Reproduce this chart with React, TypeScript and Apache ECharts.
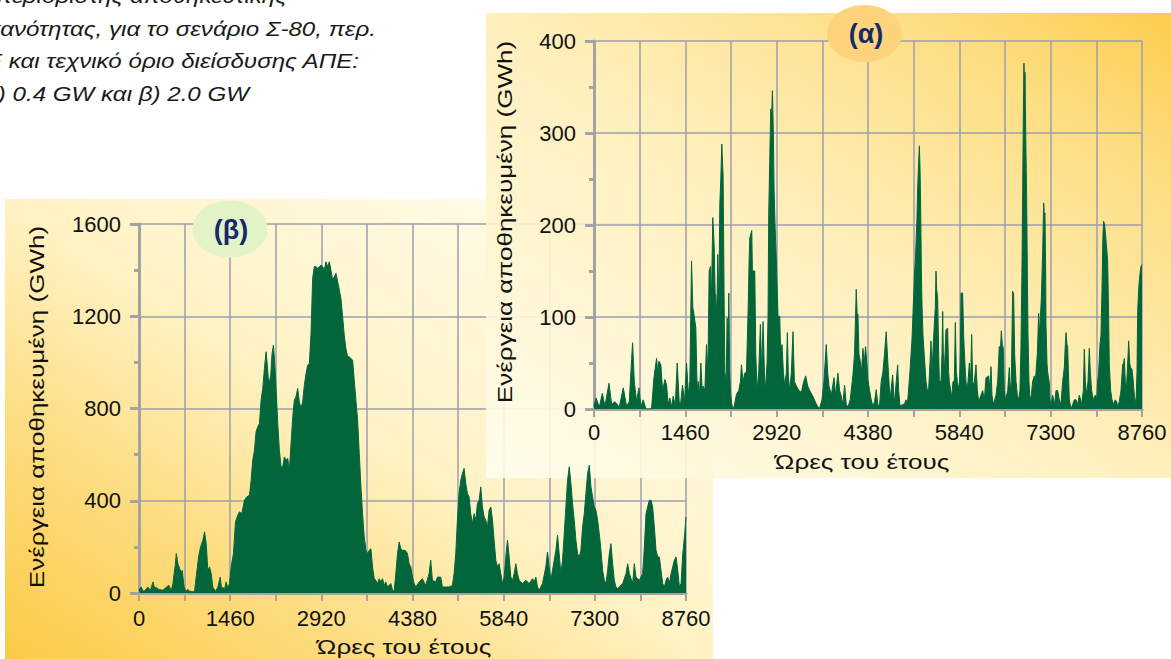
import React, { useEffect, useRef } from 'react';
import * as echarts from 'echarts';

// ---------- data ----------
const X_TICK_LABELS = ['0', '1460', '2920', '4380', '5840', '7300', '8760'];
const ALPHA_Y_MAX = 400;
const BETA_Y_MAX = 1600;

const Y_NAME = 'Ενέργεια αποθηκευμένη (GWh)';
const X_NAME = 'Ώρες του έτους';
const ALPHA_TAG = '(α)';
const BETA_TAG = '(β)';
const NOTE_LINES = [
  'απεριόριστης αποθηκευτικής',
  'ικανότητας, για το σενάριο Σ-80, περ.',
  'ΑΠΕ και τεχνικό όριο διείσδυσης ΑΠΕ:',
  'α) 0.4 GW και β) 2.0 GW',
];

// (α) stored energy, hours of year
const ALPHA_HOURS = [
  0, 32, 85, 133, 176, 239, 282, 335, 404, 468, 521, 564, 601, 617, 644, 681, 718, 750, 787, 830, 920, 958, 1000, 1021, 1037,
  1069, 1096, 1133, 1160, 1186, 1213, 1240, 1266, 1298, 1330, 1362, 1383, 1415, 1447, 1479, 1511, 1532, 1559, 1580, 1596, 1628,
  1649, 1665, 1686, 1708, 1730, 1745, 1772, 1798, 1820, 1841, 1862, 1878, 1899, 1920, 1937, 1947, 1963, 1979, 1995, 2011, 2027,
  2043, 2064, 2080, 2091, 2112, 2128, 2144, 2155, 2171, 2181, 2202, 2234, 2277, 2314, 2341, 2357, 2383, 2410, 2437, 2463, 2479,
  2490, 2522, 2532, 2543, 2570, 2586, 2607, 2633, 2660, 2681, 2703, 2724, 2740, 2766, 2782, 2793, 2809, 2825, 2841, 2852, 2867,
  2878, 2894, 2915, 2942, 2969, 2984, 3006, 3027, 3048, 3075, 3091, 3107, 3128, 3155, 3181, 3203, 3235, 3277, 3315, 3352, 3384,
  3416, 3447, 3490, 3543, 3580, 3607, 3644, 3676, 3713, 3735, 3756, 3793, 3836, 3862, 3899, 3926, 3952, 3979, 4006, 4032, 4059,
  4096, 4139, 4165, 4192, 4208, 4219, 4235, 4256, 4277, 4298, 4320, 4341, 4362, 4378, 4405, 4432, 4458, 4485, 4511, 4538, 4564,
  4591, 4618, 4644, 4671, 4694, 4732, 4774, 4801, 4854, 4870, 4892, 4934, 4961, 4987, 5014, 5051, 5083, 5110, 5126, 5137, 5153,
  5163, 5174, 5185, 5201, 5212, 5222, 5233, 5243, 5259, 5281, 5307, 5328, 5350, 5371, 5387, 5403, 5414, 5440, 5456, 5467, 5477,
  5493, 5510, 5520, 5547, 5563, 5574, 5584, 5600, 5627, 5653, 5669, 5680, 5701, 5717, 5739, 5760, 5776, 5792, 5808, 5840, 5856,
  5867, 5893, 5909, 5920, 5936, 5957, 5979, 6000, 6021, 6037, 6053, 6074, 6106, 6128, 6149, 6186, 6213, 6240, 6266, 6288, 6309,
  6330, 6346, 6362, 6383, 6405, 6426, 6453, 6479, 6495, 6511, 6527, 6543, 6559, 6575, 6597, 6613, 6629, 6639, 6655, 6671, 6692,
  6708, 6724, 6746, 6767, 6788, 6809, 6825, 6841, 6852, 6863, 6873, 6884, 6889, 6905, 6916, 6927, 6937, 6953, 6969, 6991, 7012,
  7039, 7055, 7065, 7087, 7108, 7124, 7135, 7151, 7161, 7172, 7188, 7199, 7209, 7220, 7225, 7241, 7252, 7279, 7289, 7305, 7332,
  7364, 7385, 7412, 7438, 7465, 7492, 7518, 7534, 7545, 7561, 7572, 7588, 7598, 7625, 7652, 7678, 7705, 7732, 7758, 7780, 7796,
  7822, 7838, 7854, 7875, 7897, 7918, 7934, 7955, 7982, 8014, 8035, 8051, 8067, 8088, 8104, 8120, 8136, 8147, 8163, 8173, 8189,
  8211, 8227, 8237, 8259, 8280, 8307, 8333, 8355, 8371, 8397, 8424, 8451, 8467, 8477, 8493, 8504, 8525, 8547, 8563, 8579, 8600,
  8621, 8637, 8664, 8680, 8691, 8707, 8717, 8733, 8744, 8760,
];
const ALPHA_GWH = [
  3, 12, 2, 17, 3, 28, 5, 8, 2, 23, 3, 8, 54, 72, 30, 8, 23, 3, 10, 0, 0, 34, 55, 38, 52,
  48, 20, 32, 26, 5, 12, 2, 14, 3, 50, 8, 5, 26, 8, 50, 15, 30, 161, 110, 104, 88,
  20, 30, 15, 50, 20, 25, 20, 70, 40, 150, 155, 120, 208, 179, 125, 124, 100, 168, 110, 222, 250,
  288, 253, 120, 40, 30, 99, 70, 126, 40, 19, 5, 0, 16, 20, 30, 48, 30, 39, 40, 106, 160,
  186, 194, 150, 150, 150, 60, 20, 40, 92, 40, 95, 40, 20, 50, 100, 211, 270, 326, 320, 346, 300,
  240, 200, 161, 100, 101, 60, 70, 40, 25, 40, 83, 35, 20, 40, 84, 30, 25, 20, 18, 30, 36,
  25, 20, 15, 7, 2, 1, 10, 30, 70, 40, 25, 15, 34, 15, 39, 20, 14, 5, 26, 5, 2,
  10, 37, 60, 130, 100, 103, 60, 52, 40, 66, 50, 68, 50, 32, 20, 10, 3, 8, 21, 5, 3,
  30, 40, 60, 84, 54, 10, 37, 5, 48, 20, 3, 5, 5, 10, 8, 41, 75, 123, 150, 161, 190,
  208, 240, 260, 286, 260, 219, 150, 114, 80, 57, 30, 20, 22, 50, 74, 40, 57, 92, 110, 150, 130,
  121, 60, 30, 30, 60, 106, 60, 40, 86, 88, 40, 30, 20, 12, 30, 30, 94, 40, 30, 20, 60,
  126, 126, 80, 63, 40, 20, 30, 50, 30, 81, 30, 25, 48, 20, 8, 15, 20, 10, 34, 35, 36,
  20, 46, 15, 5, 10, 15, 30, 68, 60, 85, 70, 66, 20, 10, 15, 20, 35, 45, 20, 30, 128,
  125, 60, 30, 15, 10, 20, 66, 150, 233, 320, 376, 340, 366, 280, 230, 150, 84, 30, 10, 15, 30,
  36, 30, 30, 60, 104, 80, 99, 120, 144, 170, 224, 210, 213, 150, 92, 50, 40, 28, 10, 5, 15,
  5, 20, 20, 10, 5, 30, 45, 70, 83, 70, 68, 30, 10, 0, 5, 10, 10, 5, 15, 10, 5,
  20, 65, 30, 15, 30, 66, 40, 20, 10, 15, 10, 30, 40, 70, 80, 128, 190, 204, 200, 200, 180,
  161, 100, 48, 20, 10, 5, 10, 8, 3, 8, 20, 48, 50, 55, 30, 15, 40, 74, 50, 45, 43,
  30, 15, 5, 40, 106, 130, 139, 150, 155, 157,
];

// (β) stored energy, hours of year
const BETA_HOURS = [
  0, 11, 37, 64, 91, 144, 181, 224, 250, 266, 320, 384, 437, 480, 517, 543, 559, 581, 597, 623, 650, 677, 693, 719, 746,
  783, 810, 852, 890, 916, 954, 986, 1023, 1050, 1076, 1103, 1130, 1156, 1183, 1225, 1263, 1300, 1321, 1343, 1369, 1396, 1423,
  1449, 1476, 1513, 1545, 1582, 1609, 1646, 1689, 1726, 1769, 1796, 1822, 1849, 1875, 1902, 1929, 1955, 1982, 2009, 2035, 2057,
  2078, 2110, 2131, 2153, 2174, 2195, 2222, 2248, 2275, 2302, 2328, 2355, 2382, 2408, 2435, 2462, 2488, 2515, 2541, 2568, 2595,
  2621, 2648, 2675, 2701, 2728, 2755, 2781, 2808, 2834, 2861, 2888, 2914, 2941, 2968, 2994, 3021, 3048, 3074, 3101, 3128, 3154,
  3181, 3208, 3234, 3261, 3287, 3314, 3341, 3367, 3394, 3421, 3447, 3474, 3501, 3527, 3554, 3580, 3607, 3634, 3660, 3687, 3714,
  3740, 3767, 3794, 3820, 3847, 3874, 3900, 3927, 3953, 3980, 4033, 4060, 4087, 4113, 4140, 4166, 4193, 4220, 4262, 4300, 4326,
  4353, 4380, 4406, 4433, 4486, 4538, 4592, 4645, 4672, 4699, 4752, 4779, 4832, 4859, 4912, 4966, 5019, 5046, 5073, 5099, 5126,
  5153, 5179, 5206, 5233, 5260, 5286, 5313, 5340, 5367, 5393, 5420, 5447, 5473, 5500, 5527, 5554, 5580, 5607, 5634, 5661, 5687,
  5714, 5741, 5767, 5794, 5821, 5848, 5874, 5901, 5928, 5954, 5981, 6008, 6035, 6061, 6088, 6141, 6195, 6248, 6302, 6329, 6355,
  6382, 6409, 6462, 6515, 6542, 6569, 6596, 6622, 6676, 6703, 6729, 6756, 6783, 6810, 6836, 6863, 6890, 6917, 6943, 6970, 6997,
  7023, 7050, 7077, 7104, 7131, 7157, 7184, 7211, 7238, 7264, 7291, 7318, 7345, 7371, 7398, 7425, 7452, 7478, 7505, 7532, 7558,
  7585, 7612, 7639, 7666, 7692, 7746, 7799, 7826, 7853, 7906, 7932, 7959, 8013, 8066, 8093, 8120, 8146, 8173, 8200, 8226, 8253,
  8280, 8307, 8333, 8360, 8387, 8414, 8440, 8467, 8494, 8521, 8547, 8574, 8601, 8628, 8654, 8681, 8708, 8735, 8760,
];
const BETA_GWH = [
  10, 19, 26, 8, 10, 26, 10, 48, 20, 25, 15, 12, 25, 33, 10, 40, 77, 120, 171, 127, 106, 90, 98, 30, 8,
  15, 8, 5, 8, 69, 156, 200, 229, 265, 214, 98, 113, 84, 25, 8, 25, 69, 20, 25, 15, 48, 20,
  40, 113, 171, 308, 337, 352, 344, 402, 417, 424, 489, 576, 619, 699, 720, 735, 836, 887, 974, 1046, 981,
  901, 945, 1039, 1075, 995, 887, 735, 619, 547, 547, 590, 576, 583, 532, 648, 764, 836, 851, 887, 829, 800,
  829, 901, 952, 988, 995, 1126, 1364, 1415, 1415, 1408, 1415, 1422, 1415, 1400, 1436, 1415, 1436, 1400, 1357, 1371, 1386,
  1350, 1314, 1277, 1198, 1118, 1060, 1024, 1024, 1017, 1010, 923, 836, 749, 605, 460, 344, 243, 185, 171, 185, 192,
  113, 62, 55, 40, 62, 48, 62, 33, 48, 26, 41, 12, 8, 84, 171, 221, 192, 185, 185, 171, 127,
  113, 69, 41, 26, 48, 62, 33, 84, 142, 55, 48, 69, 69, 26, 26, 26, 33, 84, 171, 315, 431,
  489, 518, 540, 475, 431, 417, 344, 301, 344, 315, 388, 402, 460, 373, 330, 315, 286, 359, 373, 315, 229,
  142, 113, 127, 84, 40, 69, 156, 229, 156, 69, 55, 84, 127, 84, 55, 41, 55, 41, 62, 48, 69,
  26, 12, 41, 113, 178, 113, 55, 98, 185, 250, 170, 84, 142, 258, 373, 489, 547, 475, 388, 315, 229,
  171, 156, 185, 286, 344, 431, 518, 554, 460, 417, 373, 359, 315, 258, 185, 98, 55, 41, 98, 171, 214,
  127, 55, 26, 19, 26, 41, 84, 127, 84, 41, 127, 69, 55, 84, 200, 344, 373, 402, 402, 373, 286,
  185, 156, 156, 98, 41, 26, 55, 69, 41, 84, 113, 142, 156, 98, 26, 41, 171, 243, 330,
];

// ---------- styles ----------
const FONT = '"Liberation Sans", Arial, Helvetica, sans-serif';
const GREEN = '#03663A';
const AXIS_GRAY = '#A3A3A3';
const GRID_GRAY = '#9E9EAE';
const TEXT = '#111111';
const NAVY = '#15286B';

function xAxisCfg(gridIndex: number, z: number, margin: number) {
  return {
    type: 'value',
    gridIndex,
    min: 0,
    max: 8760,
    interval: 730,
    z,
    axisLine: { show: true, onZero: false, lineStyle: { color: AXIS_GRAY, width: 3 } },
    axisTick: { show: true, length: 8, lineStyle: { color: AXIS_GRAY, width: 2 } },
    axisLabel: {
      margin,
      fontSize: 22,
      fontFamily: FONT,
      color: TEXT,
      showMinLabel: true,
      showMaxLabel: true,
      formatter: (v: number) => (X_TICK_LABELS.includes(String(v)) ? String(v) : ''),
    },
    splitLine: { show: true, lineStyle: { color: GRID_GRAY, width: 1.5 } },
  };
}

function yAxisCfg(gridIndex: number, z: number, max: number, interval: number) {
  return {
    type: 'value',
    gridIndex,
    min: 0,
    max,
    interval,
    z,
    axisLine: { show: true, lineStyle: { color: AXIS_GRAY, width: 3 } },
    axisTick: { show: true, length: 9, lineStyle: { color: AXIS_GRAY, width: 3 } },
    minorTick: { show: true, splitNumber: 2, length: 5, lineStyle: { color: AXIS_GRAY, width: 3 } },
    axisLabel: {
      margin: 18,
      fontSize: 22,
      fontFamily: FONT,
      color: TEXT,
      formatter: (v: number) => String(v),
    },
    splitLine: { show: true, lineStyle: { color: GRID_GRAY, width: 1.5 } },
  };
}

function areaSeries(idx: number, hours: number[], values: number[], z: number) {
  return {
    type: 'line',
    xAxisIndex: idx,
    yAxisIndex: idx,
    z,
    data: hours.map((h, i) => [h, values[i]]),
    showSymbol: false,
    symbol: 'none',
    silent: true,
    lineStyle: { color: GREEN, width: 1 },
    areaStyle: { color: GREEN, opacity: 1 },
  };
}

function label(text: string, x: number, y: number, opts: any = {}) {
  return {
    type: 'text',
    x,
    y,
    z: 6,
    silent: true,
    rotation: opts.rotation || 0,
    scaleX: opts.scaleX || 1,
    style: {
      text,
      fill: opts.fill || TEXT,
      fontSize: opts.fontSize || 21,
      fontFamily: FONT,
      fontStyle: opts.fontStyle || 'normal',
      fontWeight: opts.fontWeight || 'normal',
      align: opts.align || 'center',
      verticalAlign: 'middle',
    },
  };
}

export default function App() {
  const ref = useRef<HTMLDivElement>(null);

  useEffect(() => {
    const chart = echarts.init(ref.current as HTMLDivElement, null, { renderer: 'svg' });

    const betaBg = {
      type: 'linear', x: 0, y: 1, x2: 1, y2: 0,
      colorStops: [
        { offset: 0, color: '#FBCB46' },
        { offset: 0.25, color: '#FDDC7E' },
        { offset: 0.5, color: '#FFF2C4' },
        { offset: 1, color: '#FFFEF4' },
      ],
    };
    const alphaBg = {
      type: 'linear', x: 0, y: 1, x2: 1, y2: 0,
      colorStops: [
        { offset: 0, color: '#FFFEF0' },
        { offset: 0.5, color: '#FEEDB4' },
        { offset: 0.8, color: '#FDDB78' },
        { offset: 1, color: '#FCC838' },
      ],
    };

    const noteX = [287, 376, 359, 249];
    const noteY = [-4, 29, 61.5, 94];

    const option: any = {
      animation: false,
      grid: [
        { left: 594, top: 41, width: 548, height: 368 },
        { left: 139, top: 224, width: 547, height: 369 },
      ],
      xAxis: [xAxisCfg(0, 4, 12), xAxisCfg(1, 1, 14)],
      yAxis: [yAxisCfg(0, 4, ALPHA_Y_MAX, 100), yAxisCfg(1, 1, BETA_Y_MAX, 400)],
      series: [
        areaSeries(0, ALPHA_HOURS, ALPHA_GWH, 5),
        areaSeries(1, BETA_HOURS, BETA_GWH, 3),
      ],
      graphic: {
        elements: [
          { type: 'rect', z: 0, silent: true, shape: { x: 5, y: 199, width: 708, height: 460 }, style: { fill: betaBg } },
          { type: 'rect', z: 2, silent: true, shape: { x: 486, y: 13, width: 685, height: 465 }, style: { fill: alphaBg, opacity: 0.9 } },
          ...NOTE_LINES.map((t, i) =>
            label(t, noteX[i], noteY[i], { align: 'right', fontSize: 21, fontStyle: 'italic', scaleX: 1.15, fill: '#1a1a1a' })
          ),
          label(Y_NAME, 505, 222, { rotation: Math.PI / 2, scaleX: 1.24 }),
          label(Y_NAME, 37, 407, { rotation: Math.PI / 2, scaleX: 1.24 }),
          label(X_NAME, 862, 462, { scaleX: 1.24 }),
          label(X_NAME, 404, 647, { scaleX: 1.24 }),
          { type: 'ellipse', z: 6, silent: true, shape: { cx: 864.5, cy: 33.5, rx: 37.5, ry: 28.5 }, style: { fill: '#FDD47C' } },
          label(ALPHA_TAG, 866, 34, { fontSize: 27, fontWeight: 'bold', fill: NAVY }),
          { type: 'ellipse', z: 6, silent: true, shape: { cx: 230, cy: 229, rx: 37.5, ry: 28.5 }, style: { fill: '#E2F3C6' } },
          label(BETA_TAG, 231, 230, { fontSize: 27, fontWeight: 'bold', fill: NAVY }),
        ],
      },
    };

    chart.setOption(option);
    return () => chart.dispose();
  }, []);

  return (
    <div
      ref={ref}
      style={{ position: 'absolute', left: 0, top: 0, width: 1171, height: 659 }}
    />
  );
}
